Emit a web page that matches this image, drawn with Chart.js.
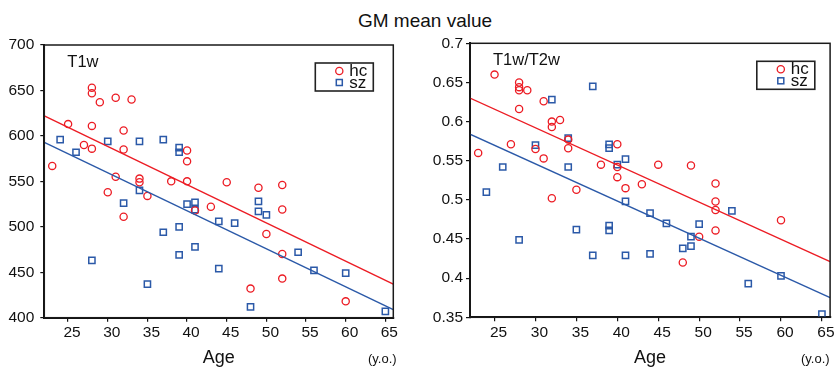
<!DOCTYPE html>
<html lang="en">
<head>
<meta charset="UTF-8" />
<title>GM mean value</title>
<script src="https://cdn.jsdelivr.net/npm/chart.js"></script>
<style>
  body { margin: 0; background: #fff; font-family: "Liberation Sans", Arial, sans-serif; }
  #page { position: relative; width: 836px; height: 367px; overflow: hidden; }
  .abs { position: absolute; }
  #title { left: 325px; top: 11px; width: 200px; text-align: center; font-size: 19px; line-height: 19px; color: #111; }
  .unit { top: 352px; font-size: 13px; line-height: 13px; color: #111; white-space: nowrap; }
</style>
</head>
<body>
<div id="page">
  <div id="title" class="abs">GM mean value</div>
  <div class="abs" style="left:0;top:0;width:400px;height:367px"><canvas id="t1w" width="400" height="367"></canvas></div>
  <div class="abs" style="left:400px;top:0;width:436px;height:367px"><canvas id="ratio" width="436" height="367"></canvas></div>
  <div class="abs unit" style="left:368px">(y.o.)</div>
  <div class="abs unit" style="left:801px">(y.o.)</div>
</div>

<script>
  // ---- data ----
  const ageTicks = [25, 30, 35, 40, 45, 50, 55, 60, 65];
  const t1wTicks = [400, 450, 500, 550, 600, 650, 700];
  const ratioTicks = [0.35, 0.4, 0.45, 0.5, 0.55, 0.6, 0.65, 0.7];

  // T1w, healthy controls
  const hcAgeT1w = [23, 25, 28, 28, 28, 28, 27, 29, 31, 33, 32, 32, 31, 30, 34, 34, 35, 38, 40, 40, 40, 41, 43, 32, 45, 49, 52, 52, 50, 52, 52, 48, 60];
  const hcT1w    = [567, 613, 653, 647, 611, 586, 590, 637, 642, 640, 606, 585, 555, 538, 553, 549, 534, 550, 584, 572, 550, 518, 522, 511, 549, 543, 546, 519, 492, 470, 443, 432, 418];
  // T1w, schizophrenia
  const szAgeT1w = [24, 26, 30, 34, 37, 39, 39, 34, 32, 40, 41, 41, 39, 37, 39, 41, 28, 35, 44, 44, 46, 49, 49, 50, 54, 56, 60, 48, 65];
  const szT1w    = [596, 582, 594, 594, 596, 587, 582, 540, 526, 525, 527, 519, 500, 494, 469, 478, 463, 437, 506, 454, 504, 528, 517, 513, 472, 452, 449, 412, 407];

  // T1w/T2w, healthy controls
  const hcAgeRatio = [23, 25, 28, 28, 28, 29, 28, 31, 32, 32, 33, 27, 30, 31, 34, 34, 35, 32, 38, 40, 40, 40, 41, 43, 45, 49, 52, 52, 52, 52, 50, 48, 60];
  const hcRatio    = [0.560, 0.660, 0.650, 0.644, 0.640, 0.640, 0.616, 0.626, 0.600, 0.593, 0.602, 0.571, 0.565, 0.553, 0.566, 0.577, 0.513, 0.502, 0.545, 0.571, 0.542, 0.529, 0.515, 0.520, 0.545, 0.544, 0.521, 0.498, 0.487, 0.461, 0.453, 0.420, 0.474];
  // T1w/T2w, schizophrenia
  const szAgeRatio = [24, 26, 30, 32, 37, 34, 34, 39, 39, 40, 41, 41, 28, 35, 37, 39, 39, 41, 44, 44, 46, 50, 49, 49, 48, 54, 56, 60, 65];
  const szRatio    = [0.510, 0.542, 0.570, 0.628, 0.645, 0.579, 0.542, 0.571, 0.566, 0.545, 0.552, 0.498, 0.449, 0.462, 0.429, 0.467, 0.461, 0.429, 0.483, 0.431, 0.470, 0.469, 0.453, 0.441, 0.438, 0.486, 0.393, 0.403, 0.354];

  // regression lines (end points read at the plot edges)
  const fitAge = [22, 66];
  const hcFitT1w = [622, 437];
  const szFitT1w = [593, 409];
  const hcFitRatio = [0.630, 0.421];
  const szFitRatio = [0.584, 0.375];

  const RED = "#ec1c24";
  const BLUE = "#2b59a8";
  const INK = "#111";
  const FONT = "'Liberation Sans', Arial, sans-serif";

  function pts(xs, ys) {
    return xs.map((x, i) => ({ x: x, y: ys[i] }));
  }

  // frame box, panel label and the small legend box
  const panelDecor = {
    id: "panelDecor",
    afterDraw(chart, args, o) {
      const { ctx, chartArea: a } = chart;
      ctx.save();
      ctx.strokeStyle = "#1a1a1a";
      ctx.lineWidth = 1.5;
      ctx.strokeRect(a.left, a.top, a.right - a.left, a.bottom - a.top);

      ctx.fillStyle = INK;
      ctx.font = "16.5px " + FONT;
      ctx.textBaseline = "middle";
      ctx.textAlign = "left";
      ctx.fillText(o.label, a.left + 23, a.top + 17);

      const bw = 58, bh = 28;
      const bx = a.right - o.legendRight - bw;
      const by = a.top + 18;
      ctx.lineWidth = 1.6;
      ctx.strokeStyle = "#222";
      ctx.strokeRect(bx, by, bw, bh);

      ctx.font = "17px " + FONT;
      chart.data.datasets.filter((d) => d.inLegend).forEach((d, i) => {
        const y = by + 8 + i * 11.5;
        const mx = bx + 24;
        ctx.strokeStyle = d.borderColor;
        ctx.lineWidth = d.pointBorderWidth;
        if (d.pointStyle === "rect") {
          ctx.strokeRect(mx - 3, y - 3, 6, 6);
        } else {
          ctx.beginPath();
          ctx.arc(mx, y, d.pointRadius, 0, Math.PI * 2);
          ctx.stroke();
        }
        ctx.fillStyle = INK;
        ctx.fillText(d.label, bx + 34, y + 0.5);
      });
      ctx.restore();
    },
  };

  function makePanel(id, cfg) {
    return new Chart(document.getElementById(id), {
      type: "scatter",
      data: {
        datasets: [
          { label: "hc fit", data: pts(fitAge, cfg.hcFit), showLine: true, borderColor: RED, borderWidth: 1.4, pointRadius: 0 },
          { label: "sz fit", data: pts(fitAge, cfg.szFit), showLine: true, borderColor: BLUE, borderWidth: 1.4, pointRadius: 0 },
          {
            label: "hc", inLegend: true, data: pts(cfg.hcAge, cfg.hc),
            pointStyle: "circle", pointRadius: 3.6, pointBorderWidth: 1.3,
            borderColor: RED, backgroundColor: "rgba(0,0,0,0)",
          },
          {
            label: "sz", inLegend: true, data: pts(cfg.szAge, cfg.sz),
            pointStyle: "rect", pointRadius: 4.4, pointBorderWidth: 1.5,
            borderColor: BLUE, backgroundColor: "rgba(0,0,0,0)",
          },
        ],
      },
      options: {
        responsive: false,
        animation: false,
        devicePixelRatio: 1,
        layout: { padding: { top: cfg.top, right: cfg.right, left: 0, bottom: 0 } },
        scales: {
          x: {
            type: "linear",
            min: 22,
            max: 66,
            afterBuildTicks: (s) => { s.ticks = ageTicks.map((v) => ({ value: v })); },
            afterFit: (s) => { s.height = cfg.xHeight; },
            border: { color: INK, width: 2 },
            grid: { drawOnChartArea: false, tickLength: 4, color: INK, lineWidth: 1.2 },
            ticks: { font: { family: FONT, size: 15.5 }, color: INK, padding: 2, labelOffset: 4, maxRotation: 0, autoSkip: false },
            title: { display: true, text: "Age", color: INK, font: { family: FONT, size: 18, lineHeight: 1 }, padding: 0 },
          },
          y: {
            type: "linear",
            min: cfg.yTicks[0],
            max: cfg.yTicks[cfg.yTicks.length - 1],
            afterBuildTicks: (s) => { s.ticks = cfg.yTicks.map((v) => ({ value: v })); },
            afterFit: (s) => { s.width = cfg.yWidth; },
            border: { color: INK, width: 2 },
            grid: { drawOnChartArea: false, tickLength: 4, color: INK, lineWidth: 1.2 },
            ticks: {
              font: { family: FONT, size: 15.5 }, color: INK, padding: cfg.yPad, autoSkip: false,
              callback: (v) => String(+Number(v).toFixed(2)),
            },
          },
        },
        plugins: {
          legend: { display: false },
          tooltip: { enabled: false },
          panelDecor: { label: cfg.label, legendRight: cfg.legendRight },
        },
      },
      plugins: [panelDecor],
    });
  }

  makePanel("t1w", {
    label: "T1w",
    hcAge: hcAgeT1w, hc: hcT1w, szAge: szAgeT1w, sz: szT1w,
    hcFit: hcFitT1w, szFit: szFitT1w,
    yTicks: t1wTicks,
    top: 45, right: 6.7, xHeight: 49.3, yWidth: 44.3, yPad: 6, legendRight: 20,
  });

  makePanel("ratio", {
    label: "T1w/T2w",
    hcAge: hcAgeRatio, hc: hcRatio, szAge: szAgeRatio, sz: szRatio,
    hcFit: hcFitRatio, szFit: szFitRatio,
    yTicks: ratioTicks,
    top: 43.3, right: 2.7, xHeight: 49.7, yWidth: 70, yPad: 3, legendRight: 15.3,
  });
</script>
</body>
</html>
